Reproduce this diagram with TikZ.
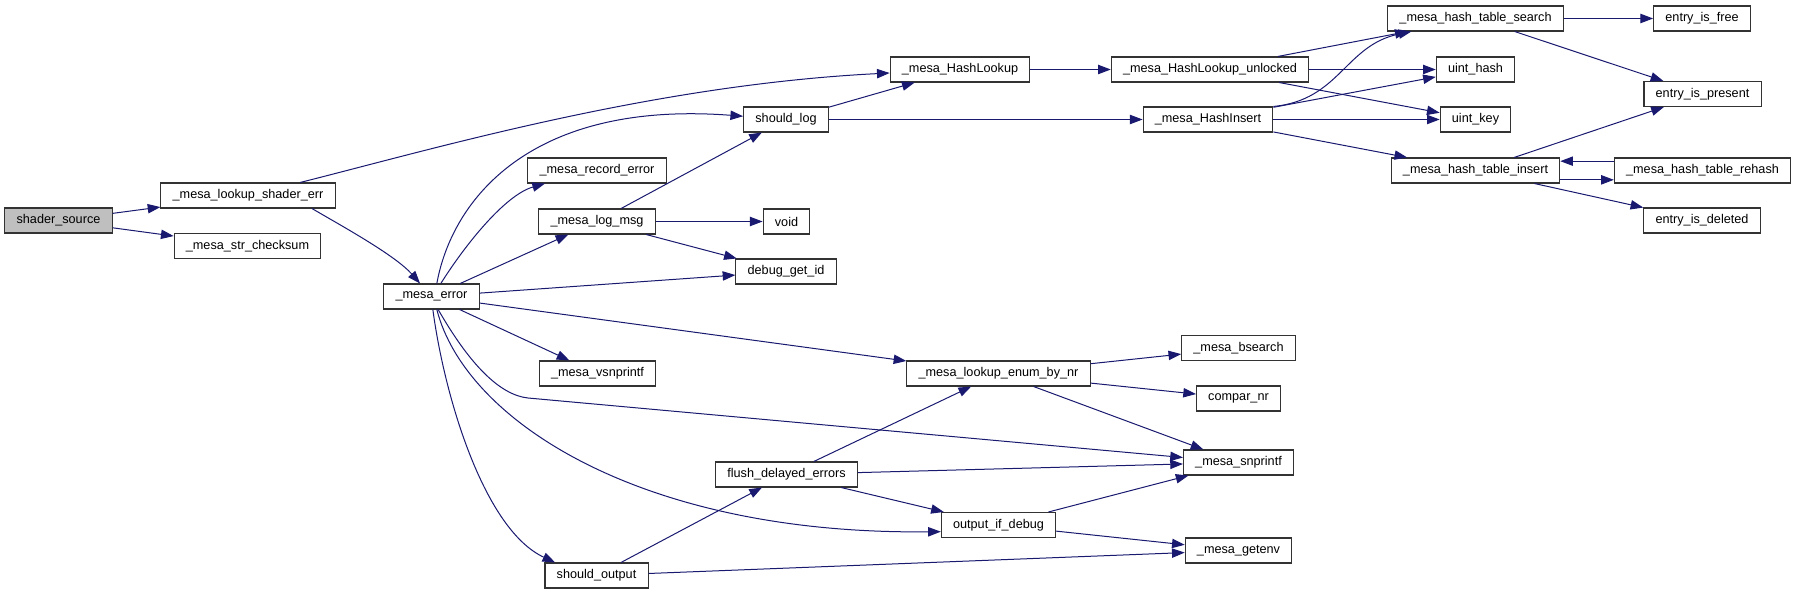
\documentclass[tikz,border=0pt]{standalone}
\usepackage{fontspec}
\setmainfont{Liberation Sans}
\usetikzlibrary{arrows.meta}
\definecolor{edgeblue}{HTML}{191970}
\begin{document}
\begin{tikzpicture}[
    x=0.75pt, y=-0.75pt,
    fn/.style={draw=black!80, line width=0.8pt, fill=white, minimum height=18.75pt, inner xsep=8.8pt, inner ysep=0pt, font=\fontsize{9.5}{11}\selectfont},
    call/.style={draw=edgeblue, line width=0.75pt, -{Triangle[length=9.5pt,width=7pt]}}
]
\useasboundingbox (0,0) rectangle (1797,595);

% Functions (pixel grid, y grows downwards)
\node[fn, fill=gray!50] (src) at (58.5,220.5) {shader\_source};
\node[fn] (lookupshader) at (248,195.5) {\_mesa\_lookup\_shader\_err};
\node[fn] (checksum) at (247.5,246) {\_mesa\_str\_checksum};
\node[fn] (meserr) at (431.5,296.5) {\_mesa\_error};
\node[fn] (recerr) at (597,170.5) {\_mesa\_record\_error};
\node[fn] (logmsg) at (597,221.5) {\_mesa\_log\_msg};
\node[fn] (vsnprintf) at (597.5,373.5) {\_mesa\_vsnprintf};
\node[fn] (shouldout) at (596.5,575.5) {should\_output};
\node[fn] (shouldlog) at (786,119.5) {should\_log};
\node[fn] (void) at (786.5,221.5) {void};
\node[fn] (debugid) at (786,271.5) {debug\_get\_id};
\node[fn] (flush) at (786.5,474.5) {flush\_delayed\_errors};
\node[fn] (hashlookup) at (960,69.5) {\_mesa\_HashLookup};
\node[fn] (enumbynr) at (998.5,373.5) {\_mesa\_lookup\_enum\_by\_nr};
\node[fn] (outdebug) at (998.5,525) {output\_if\_debug};
\node[fn] (hashunlocked) at (1210,69.5) {\_mesa\_HashLookup\_unlocked};
\node[fn] (hashinsert) at (1208,119.5) {\_mesa\_HashInsert};
\node[fn] (bsearch) at (1238.5,348) {\_mesa\_bsearch};
\node[fn] (comparnr) at (1238.5,398.5) {compar\_nr};
\node[fn] (snprintf) at (1238.5,462.5) {\_mesa\_snprintf};
\node[fn] (getenv) at (1238.5,550.5) {\_mesa\_getenv};
\node[fn] (tblsearch) at (1475.5,18.5) {\_mesa\_hash\_table\_search};
\node[fn] (uinthash) at (1475.5,69.5) {uint\_hash};
\node[fn] (uintkey) at (1475.5,119.5) {uint\_key};
\node[fn] (tblinsert) at (1475.5,170.5) {\_mesa\_hash\_table\_insert};
\node[fn] (isfree) at (1702,18.5) {entry\_is\_free};
\node[fn] (ispresent) at (1702.5,94) {entry\_is\_present};
\node[fn] (rehash) at (1702.5,170.5) {\_mesa\_hash\_table\_rehash};
\node[fn] (isdeleted) at (1702,220.5) {entry\_is\_deleted};
\coordinate (bend) at (528,398);

% Calls from shader_source and _mesa_error
\draw[call] (src) -- (lookupshader);
\draw[call] (src) -- (checksum);
\draw[call] (lookupshader) .. controls (430,150) and (650,85) .. (hashlookup);
\draw[call] ([xshift=48pt]lookupshader.south) .. controls (340,225) and (395,255) .. (meserr);
\draw[call] ([xshift=4pt]meserr.north) .. controls (452,200) and (530,100) .. (shouldlog);
\draw[call] ([xshift=7pt]meserr.north) .. controls (465,245) and (505,195) .. ([xshift=-39pt]recerr.south);
\draw[call] (meserr) -- (logmsg);
\draw[call] (meserr) -- (debugid);
\draw[call] (meserr) -- (vsnprintf);
\draw[call] (meserr) -- (enumbynr);
\draw[call] ([xshift=5pt]meserr.south) .. controls (470,365) and (500,395) .. (bend) -- (snprintf);
\draw[call] ([xshift=4pt]meserr.south) .. controls (465,420) and (640,535) .. ([yshift=-5pt]outdebug.west);
\draw[call] ([xshift=1pt]meserr.south) .. controls (445,400) and (485,530) .. ([xshift=-31pt]shouldout.north);

% Logging and hash table
\draw[call] (shouldlog) -- (hashlookup);
\draw[call] (shouldlog) -- (hashinsert);
\draw[call] (logmsg) -- (shouldlog);
\draw[call] (logmsg) -- (void);
\draw[call] (logmsg) -- (debugid);
\draw[call] (hashlookup) -- (hashunlocked);
\draw[call] (hashunlocked) -- (tblsearch);
\draw[call] (hashunlocked) -- (uinthash);
\draw[call] (hashunlocked) -- (uintkey);
\draw[call] (hashinsert.north east) .. controls (1340,100) and (1345,45) .. (tblsearch);
\draw[call] (hashinsert) -- (uinthash);
\draw[call] (hashinsert) -- (uintkey);
\draw[call] (hashinsert) -- (tblinsert);
\draw[call] (tblsearch) -- (isfree);
\draw[call] (tblsearch) -- (ispresent);
\draw[call] (tblinsert) -- (ispresent);
\draw[call] ([yshift=7pt]rehash.west) -- ([yshift=7pt]tblinsert.east);
\draw[call] ([yshift=-7pt]tblinsert.east) -- ([yshift=-7pt]rehash.west);
\draw[call] (tblinsert) -- (isdeleted);

% Enum lookup and delayed output
\draw[call] (enumbynr) -- (bsearch);
\draw[call] (enumbynr) -- (comparnr);
\draw[call] (enumbynr) -- (snprintf);
\draw[call] (flush) -- (enumbynr);
\draw[call] (flush) -- (snprintf);
\draw[call] (flush) -- (outdebug);
\draw[call] (outdebug) -- (snprintf);
\draw[call] (outdebug) -- (getenv);
\draw[call] (shouldout) -- (flush);
\draw[call] (shouldout) -- (getenv);
\end{tikzpicture}
\end{document}
